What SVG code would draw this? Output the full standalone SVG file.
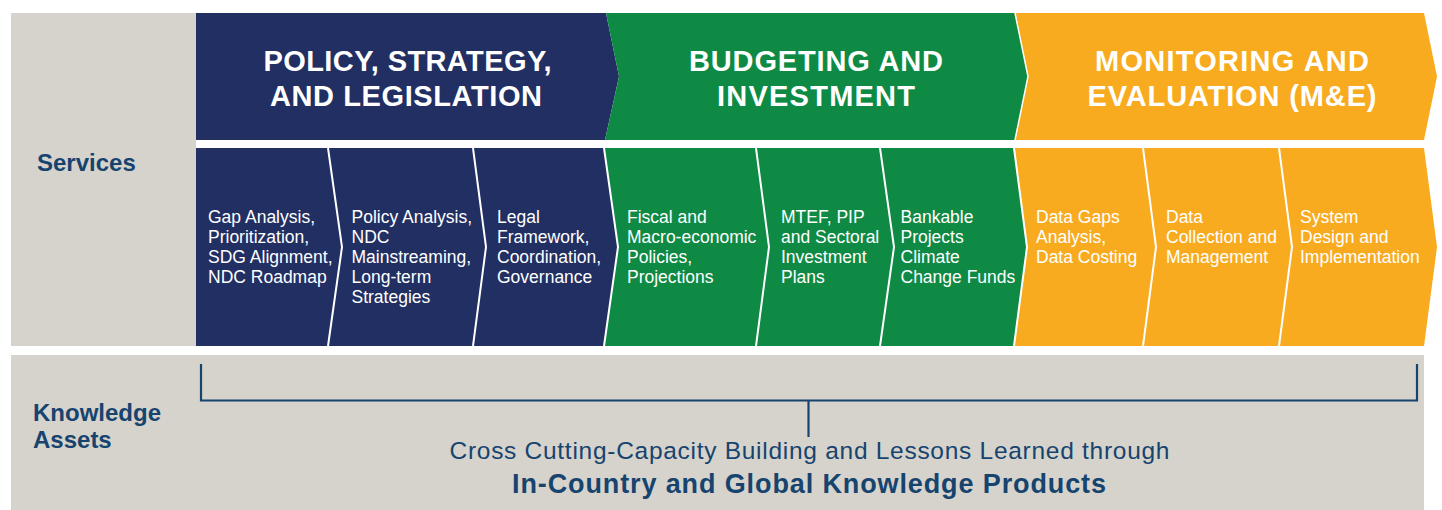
<svg xmlns="http://www.w3.org/2000/svg" width="1442" height="510" viewBox="0 0 1442 510">
<style>
.navy{fill:#222f63}
.green{fill:#0e8a45}
.orange{fill:#f9ab20}
.gray{fill:#d5d3cb}
.hd{font-family:"Liberation Sans",Arial,sans-serif;font-weight:bold;font-size:29px;fill:#ffffff;text-anchor:middle}
.bd{font-family:"Liberation Sans",Arial,sans-serif;font-size:17.5px;fill:#ffffff}
.lbl{font-family:"Liberation Sans",Arial,sans-serif;font-weight:bold;font-size:24px;fill:#17436f}
.sep{fill:none;stroke:#ffffff;stroke-width:2}
.br{fill:none;stroke:#17436f;stroke-width:2.2}
</style>
<rect width="1442" height="510" fill="#ffffff"/>
<g id="panels">
<rect class="gray" x="11" y="13" width="185" height="333"/>
<rect class="gray" x="11" y="355" width="1413" height="155"/>
</g>
<g id="label-services"><text class="lbl" x="37" y="171">Services</text></g>
<g id="label-knowledge"><text class="lbl" x="33" y="421">Knowledge</text><text class="lbl" x="33" y="448">Assets</text></g>

<g id="header-policy">
<polygon class="navy" points="196,13 606,13 619,76.5 605,140 196,140"/>
<text class="hd" x="407.5" y="71" textLength="288">POLICY, STRATEGY,</text>
<text class="hd" x="406" y="106" textLength="272">AND LEGISLATION</text>
</g>
<g id="header-budget">
<polygon class="green" points="606,13 1015,13 1028,76.5 1015,140 605,140 619,76.5"/>
<text class="hd" x="816" y="71" textLength="254">BUDGETING AND</text>
<text class="hd" x="816" y="106" textLength="198">INVESTMENT</text>
</g>
<g id="header-me">
<polygon class="orange" points="1015,13 1424,13 1437,76.5 1424,140 1015,140 1028,76.5"/>
<polyline class="sep" style="stroke-width:1.5" points="1015,13 1028,76.5 1015,140"/>
<text class="hd" x="1232" y="71" textLength="274">MONITORING AND</text>
<text class="hd" x="1232" y="106" textLength="289">EVALUATION (M&amp;E)</text>
</g>

<g id="s1">
<polygon class="navy" points="196,148 328,148 342,247 328,346 196,346"/>
<text class="bd"><tspan x="208" y="223">Gap Analysis,</tspan><tspan x="208" y="243">Prioritization,</tspan><tspan x="208" y="263">SDG Alignment,</tspan><tspan x="208" y="283">NDC Roadmap</tspan></text>
</g>
<g id="s2">
<polygon class="navy" points="328,148 473,148 486,247 473,346 328,346 342,247"/>
<text class="bd"><tspan x="351.5" y="223">Policy Analysis,</tspan><tspan x="351.5" y="243">NDC</tspan><tspan x="351.5" y="263">Mainstreaming,</tspan><tspan x="351.5" y="283">Long-term</tspan><tspan x="351.5" y="303">Strategies</tspan></text>
</g>
<g id="s3">
<polygon class="navy" points="473,148 604,148 618,247 604,346 473,346 486,247"/>
<text class="bd"><tspan x="497" y="223">Legal</tspan><tspan x="497" y="243">Framework,</tspan><tspan x="497" y="263">Coordination,</tspan><tspan x="497" y="283">Governance</tspan></text>
</g>
<g id="s4">
<polygon class="green" points="604,148 756,148 769,247 756,346 604,346 618,247"/>
<text class="bd"><tspan x="627" y="223">Fiscal and</tspan><tspan x="627" y="243">Macro-economic</tspan><tspan x="627" y="263">Policies,</tspan><tspan x="627" y="283">Projections</tspan></text>
</g>
<g id="s5">
<polygon class="green" points="756,148 880,148 894,247 880,346 756,346 769,247"/>
<text class="bd"><tspan x="781" y="223">MTEF, PIP</tspan><tspan x="781" y="243">and Sectoral</tspan><tspan x="781" y="263">Investment</tspan><tspan x="781" y="283">Plans</tspan></text>
</g>
<g id="s6">
<polygon class="green" points="880,148 1014,148 1027,247 1014,346 880,346 894,247"/>
<text class="bd"><tspan x="900.5" y="223">Bankable</tspan><tspan x="900.5" y="243">Projects</tspan><tspan x="900.5" y="263">Climate</tspan><tspan x="900.5" y="283">Change Funds</tspan></text>
</g>
<g id="s7">
<polygon class="orange" points="1014,148 1143,148 1156,247 1143,346 1014,346 1027,247"/>
<text class="bd"><tspan x="1036" y="223">Data Gaps</tspan><tspan x="1036" y="243">Analysis,</tspan><tspan x="1036" y="263">Data Costing</tspan></text>
</g>
<g id="s8">
<polygon class="orange" points="1143,148 1279,148 1292,247 1279,346 1143,346 1156,247"/>
<text class="bd"><tspan x="1166" y="223">Data</tspan><tspan x="1166" y="243">Collection and</tspan><tspan x="1166" y="263">Management</tspan></text>
</g>
<g id="s9">
<polygon class="orange" points="1279,148 1424,148 1437,247 1424,346 1279,346 1292,247"/>
<text class="bd"><tspan x="1300" y="223">System</tspan><tspan x="1300" y="243">Design and</tspan><tspan x="1300" y="263">Implementation</tspan></text>
</g>
<g id="separators">
<polyline class="sep" points="328,148 342,247 328,346"/>
<polyline class="sep" points="473,148 486,247 473,346"/>
<polyline class="sep" points="604,148 618,247 604,346"/>
<polyline class="sep" points="756,148 769,247 756,346"/>
<polyline class="sep" points="880,148 894,247 880,346"/>
<polyline class="sep" points="1014,148 1027,247 1014,346"/>
<polyline class="sep" points="1143,148 1156,247 1143,346"/>
<polyline class="sep" points="1279,148 1292,247 1279,346"/>
</g>

<g id="connectors">
<polyline class="br" points="201,364 201,400.5 1417,400.5 1417,364"/>
<line class="br" x1="808.5" y1="400.5" x2="808.5" y2="437"/>
</g>
<g id="knowledge-text">
<text x="809.5" y="459" text-anchor="middle" textLength="720" font-family="Liberation Sans, Arial, sans-serif" font-size="24.5" fill="#17436f">Cross Cutting-Capacity Building and Lessons Learned through</text>
<text x="809" y="493" text-anchor="middle" textLength="594" font-family="Liberation Sans, Arial, sans-serif" font-size="27" font-weight="bold" fill="#17436f">In-Country and Global Knowledge Products</text>
</g>
</svg>
